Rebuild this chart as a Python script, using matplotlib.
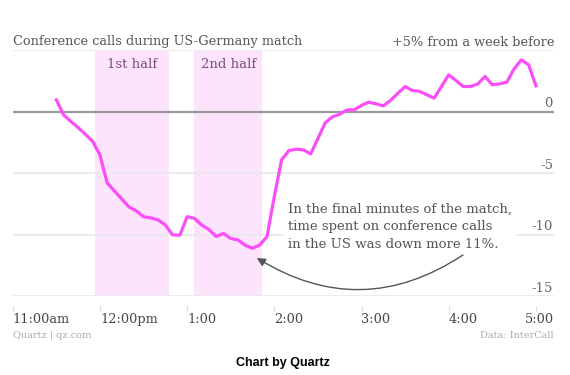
import numpy as np
import matplotlib
matplotlib.use("Agg")
import matplotlib.pyplot as plt
from matplotlib.transforms import ScaledTranslation

# 数据：相对一周前的电话会议时长变化（%），每 5 分钟一个点，11:30 到 5:00
start_hour = 0.5          # 距 11:00 的小时数
step_hour = 5 / 60
calls_change = [
    0.95, -0.27, -0.80, -1.30, -1.85, -2.42, -3.52, -5.80, -6.45, -7.10,
    -7.75, -8.07, -8.54, -8.64, -8.80, -9.21, -10.02, -10.05, -8.54, -8.68,
    -9.21, -9.58, -10.15, -9.90, -10.31, -10.43, -10.86, -11.11, -10.84, -10.15,
    -6.90, -3.93, -3.17, -3.06, -3.11, -3.44, -2.20, -0.92, -0.43, -0.22,
    0.14, 0.14, 0.50, 0.76, 0.63, 0.46, 0.91, 1.48, 2.03, 1.71,
    1.64, 1.36, 1.09, 2.03, 2.98, 2.52, 2.03, 2.03, 2.24, 2.85,
    2.17, 2.25, 2.39, 3.47, 4.20, 3.80, 2.09,
]
hours = start_hour + step_hour * np.arange(len(calls_change))

tick_hours = [0, 1, 2, 3, 4, 5, 6]
tick_labels = ["11:00am", "12:00pm", "1:00", "2:00", "3:00", "4:00", "5:00"]
y_ticks = [0, -5, -10, -15]
halves = [("1st half", 0.944, 1.792), ("2nd half", 2.079, 2.862)]

serif = "DejaVu Serif"
fig = plt.figure(figsize=(5.7, 3.75), dpi=100)
ax = fig.add_axes([12.7 / 570, (375 - 296.2) / 375, (554 - 12.7) / 570, (296.2 - 50) / 375])

ax.set_xlim(0, (554 - 12.7) / 87.2)
ax.set_ylim(-15, 5)

# 上下半场阴影
for name, a, b in halves:
    ax.axvspan(a, b, color="#fde4fd", lw=0, zorder=0)
    ax.text((a + b) / 2, 3.8, name, ha="center", va="center", fontsize=9.5,
            color="#7f4f80", family=serif)

# 网格线
for v in [5, -5, -10, -15]:
    ax.axhline(v, color="#e8e8e8", lw=1.2, zorder=1)
ax.axhline(0, color="#999999", lw=1.6, zorder=1)

ax.plot(hours, calls_change, color="#fb4ef9", lw=2.3, solid_joinstyle="round", zorder=3)

# y 轴标签（右侧，线上方）
ytrans = ax.get_yaxis_transform()
for v in y_ticks:
    ax.text(0.998, v + 0.65, "%d" % v, transform=ytrans, ha="right", va="center",
            fontsize=9.5, color="#666666", family=serif)

# x 轴
for s in ax.spines.values():
    s.set_visible(False)
ax.spines["bottom"].set_position(("outward", 7))
ax.set_yticks([])
ax.set_xticks(tick_hours)
ax.set_xticklabels(tick_labels, fontsize=9.3, color="#444444", family=serif)
ax.tick_params(axis="x", length=3.5, width=0.8, color="#dddddd", pad=1.5)
for lbl in ax.get_xticklabels():
    lbl.set_ha("left")
last = ax.get_xticklabels()[-1]
last.set_transform(last.get_transform() + ScaledTranslation(-11 / 100, 0, fig.dpi_scale_trans))

# 标题
fig.text(12.7 / 570, 1 - 42 / 375, "Conference calls during US-Germany match", ha="left",
         va="center", fontsize=9.3, color="#555555", family=serif)
fig.text(554 / 570, 1 - 42 / 375, "+5% from a week before", ha="right", va="center",
         fontsize=9.3, color="#555555", family=serif)

# 注释
ax.annotate("In the final minutes of the match,\ntime spent on conference calls\nin the US was down more 11%.",
            xy=(2.80, -11.89), xytext=(3.16, -9.35), ha="left", va="center",
            fontsize=9.5, color="#555555", family=serif, linespacing=1.45,
            bbox=dict(boxstyle="square,pad=0.3", fc="white", ec="none"), zorder=4)
ax.annotate("", xy=(2.80, -11.89), xytext=(5.164, -11.65),
            arrowprops=dict(arrowstyle="-|>,head_length=0.5,head_width=0.25", color="#555555",
                            lw=1.0, connectionstyle="arc3,rad=-0.32", shrinkA=0, shrinkB=0),
            zorder=4)

# 页脚
fig.text(12.7 / 570, 1 - 335 / 375, "Quartz | qz.com", ha="left", va="center",
         fontsize=7.0, color="#aaaaaa", family=serif)
fig.text(554 / 570, 1 - 335 / 375, "Data: InterCall", ha="right", va="center",
         fontsize=7.0, color="#aaaaaa", family=serif)
fig.text(0.497, 1 - 363 / 375, "Chart by Quartz", ha="center", va="center",
         fontsize=9, fontweight="bold", color="black", family="Liberation Sans")

fig.savefig("out.png", dpi=100)
